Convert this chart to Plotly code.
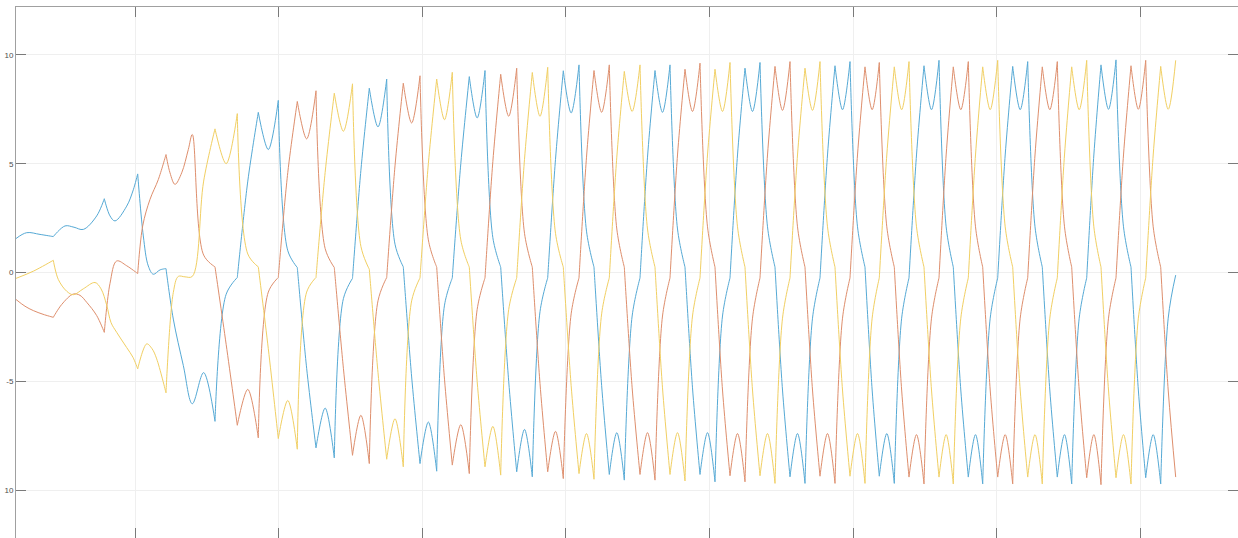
import plotly.graph_objects as go

# ---------------- data (time in ms) ----------------
# commutation instants during start-up
t_lead_step = [3.73, 8.83, 12.17, 15.00]
# commutation instants from the point where the regular six-step pattern begins
t_step = [17.63, 19.90, 22.13, 24.23, 26.23, 28.13, 30.00, 31.83, 33.65, 35.33,
          37.07, 38.73, 40.40, 42.07, 43.63, 45.33, 46.90, 48.47, 50.07, 51.63,
          53.17, 54.73, 56.30, 57.80, 59.33, 60.83, 62.40, 63.90, 65.40, 66.90,
          68.40, 69.90, 71.40, 72.90, 74.40, 75.90, 77.40, 78.90, 80.40, 81.90,
          83.40, 84.90, 86.33, 87.83, 89.30, 90.80, 92.30, 93.73, 95.23, 96.67,
          98.17, 99.67, 101.17, 102.63, 104.13, 105.57, 107.07, 108.50, 110.00, 111.50,
          112.97, 114.47, 115.97]

# start-up portion (before the regular pattern)
blue_lead_t = [0.0, 1.07, 2.4, 3.73, 4.9, 5.8, 6.73, 8.07, 8.83, 9.4, 9.9, 11.07, 11.73,
               12.17, 12.73, 13.23, 13.73, 14.4, 15.0, 15.73, 16.73]
blue_lead_v = [1.56, 1.83, 1.75, 1.65, 2.14, 2.08, 1.98, 2.6, 3.39, 2.6, 2.37, 3.05, 3.8,
               4.53, 1.68, 0.3, -0.08, 0.12, 0.18, -2.14, -4.27]

red_lead_t = [0.0, 0.9, 1.73, 2.7, 3.73, 4.57, 5.73, 6.4, 7.07, 8.07, 8.83, 9.4, 10.07,
              11.07, 12.17, 12.67, 13.4, 14.23, 15.0, 15.4, 15.9, 16.57, 17.23]
red_lead_v = [-1.24, -1.55, -1.75, -1.92, -2.06, -1.47, -0.99, -1.05, -1.37, -1.98, -2.75,
              -0.5, 0.53, 0.31, -0.05, 2.14, 3.36, 4.27, 5.42, 4.58, 4.05, 4.58, 5.65]

yellow_lead_t = [0.0, 1.73, 3.73, 4.23, 5.07, 5.73, 6.73, 7.9, 8.5, 9.07, 9.5, 10.07,
                 11.07, 11.7, 12.17, 13.07, 13.6, 14.07, 15.0, 15.73, 16.23, 16.9]
yellow_lead_v = [-0.27, 0.06, 0.56, -0.32, -0.86, -1.02, -0.75, -0.46, -0.75, -1.5, -2.3,
                 -2.75, -3.45, -3.9, -4.43, -3.28, -3.5, -3.97, -5.53, -0.92, -0.18, -0.2]

# values at each commutation instant
blue_step = [-6.03, -6.84, -0.23, 7.36, 7.91, 0.23,
             -8.06, -8.52, -0.27, 8.47, 8.89, 0.26,
             -8.78, -9.13, -0.25, 9.00, 9.28, 0.25,
             -9.16, -9.39, -0.25, 9.27, 9.54, 0.25,
             -9.28, -9.54, -0.25, 9.28, 9.54, 0.25,
             -9.28, -9.62, -0.25, 9.39, 9.65, 0.25,
             -9.39, -9.69, -0.25, 9.50, 9.69, 0.25,
             -9.36, -9.69, -0.25, 9.50, 9.75, 0.25,
             -9.40, -9.72, -0.25, 9.47, 9.69, 0.25,
             -9.40, -9.72, -0.25, 9.54, 9.77, 0.25,
             -9.43, -9.72, -0.12]
red_step = [6.34, 0.26, -7.02, -7.60, -0.23, 7.86,
            8.35, 0.23, -8.40, -8.78, -0.23, 8.70,
            9.04, 0.25, -8.85, -9.24, -0.25, 9.11,
            9.39, 0.25, -9.16, -9.47, -0.25, 9.28,
            9.54, 0.25, -9.28, -9.54, -0.25, 9.34,
            9.62, 0.25, -9.34, -9.62, -0.25, 9.47,
            9.69, 0.25, -9.36, -9.69, -0.25, 9.45,
            9.65, 0.25, -9.40, -9.72, -0.25, 9.45,
            9.69, 0.25, -9.40, -9.72, -0.25, 9.45,
            9.69, 0.25, -9.43, -9.75, -0.25, 9.50,
            9.75, 0.25, -9.40]
yellow_step = [-0.18, 6.60, 7.30, 0.26, -7.63, -8.12,
               -0.23, 8.24, 8.67, 0.15, -8.58, -8.93,
               -0.25, 8.89, 9.20, 0.25, -8.93, -9.31,
               -0.25, 9.19, 9.43, 0.25, -9.24, -9.50,
               -0.25, 9.24, 9.54, 0.25, -9.28, -9.58,
               -0.25, 9.34, 9.65, 0.25, -9.34, -9.69,
               -0.25, 9.39, 9.69, 0.25, -9.36, -9.69,
               -0.25, 9.45, 9.69, 0.25, -9.40, -9.72,
               -0.25, 9.45, 9.75, 0.25, -9.40, -9.72,
               -0.25, 9.45, 9.75, 0.25, -9.43, -9.72,
               -0.25, 9.47, 9.75]

# values half-way between consecutive commutation instants
blue_mid = [-4.6, -1.0, 4.2, 5.65, 1.0, -4.4,
            -6.23, -1.2, 4.7, 6.69, 1.3, -4.8,
            -6.87, -1.5, 5.0, 7.10, 1.6, -5.0,
            -7.21, -1.8, 5.2, 7.33, 1.9, -5.2,
            -7.36, -2.0, 5.3, 7.36, 2.0, -5.3,
            -7.36, -2.0, 5.4, 7.40, 2.1, -5.4,
            -7.40, -2.1, 5.4, 7.48, 2.1, -5.4,
            -7.40, -2.1, 5.4, 7.48, 2.1, -5.4,
            -7.45, -2.1, 5.4, 7.48, 2.1, -5.4,
            -7.45, -2.1, 5.4, 7.50, 2.1, -5.4,
            -7.45, -2.1]
red_mid = [0.8, -3.3, -5.37, -0.9, 4.6, 6.14,
           1.1, -4.4, -6.56, -1.3, 4.9, 6.87,
           1.5, -4.9, -6.99, -1.7, 5.1, 7.18,
           1.8, -5.1, -7.30, -1.9, 5.3, 7.36,
           2.0, -5.3, -7.36, -2.0, 5.4, 7.40,
           2.1, -5.4, -7.40, -2.1, 5.4, 7.45,
           2.1, -5.4, -7.40, -2.1, 5.4, 7.48,
           2.1, -5.4, -7.45, -2.1, 5.4, 7.48,
           2.1, -5.4, -7.45, -2.1, 5.4, 7.48,
           2.1, -5.4, -7.45, -2.1, 5.4, 7.50,
           2.1, -5.4]
yellow_mid = [4.2, 5.0, 0.85, -3.5, -5.88, -0.9,
              4.6, 6.49, 1.2, -4.6, -6.72, -1.3,
              5.0, 7.02, 1.5, -5.0, -7.07, -1.7,
              5.2, 7.18, 1.8, -5.2, -7.40, -1.9,
              5.3, 7.40, 2.0, -5.3, -7.36, -2.0,
              5.4, 7.40, 2.1, -5.4, -7.40, -2.1,
              5.4, 7.45, 2.1, -5.4, -7.40, -2.1,
              5.4, 7.48, 2.1, -5.4, -7.45, -2.1,
              5.4, 7.48, 2.1, -5.4, -7.45, -2.1,
              5.4, 7.48, 2.1, -5.4, -7.45, -2.1,
              5.4, 7.50]

y_tick_vals = [-10, -5, 0, 5, 10]
y_tick_text = ["10", "-5", "0", "5", "10"]

# ---------------- build traces ----------------
# Commutation instants are corners of the waveform: repeating such a vertex makes
# Plotly's spline break there (sharp cusp) while staying smooth in between.
def build(lead_t, lead_v, step_v, mid_v):
    xs, ys = [], []

    def add(t, v, corner):
        xs.append(t)
        ys.append(v)
        if corner:
            xs.append(t)
            ys.append(v)

    for t, v in zip(lead_t, lead_v):
        add(t, v, t in t_lead_step)
    n = len(step_v)
    for i in range(n):
        add(t_step[i], step_v[i], 0 < i < n - 1)
        if i < len(mid_v):
            add((t_step[i] + t_step[i + 1]) / 2.0, mid_v[i], False)
    return xs, ys


series = [
    ("Phase A", blue_lead_t, blue_lead_v, blue_step, blue_mid, "#55a9d5"),
    ("Phase B", red_lead_t, red_lead_v, red_step, red_mid, "#de8e6c"),
    ("Phase C", yellow_lead_t, yellow_lead_v, yellow_step, yellow_mid, "#f1cf62"),
]

fig = go.Figure()
for name, lt, lv, sv, mv, col in series:
    x, y = build(lt, lv, sv, mv)
    fig.add_trace(go.Scatter(x=x, y=y, mode="lines", name=name,
                             line=dict(color=col, width=1, shape="spline",
                                       smoothing=1.0, simplify=False)))

axis_gray = "#a0a0a0"
fig.update_layout(
    width=1238, height=538,
    margin=dict(l=16, r=0, t=7, b=0, pad=0),
    paper_bgcolor="white", plot_bgcolor="white",
    showlegend=False,
    xaxis=dict(range=[0, 122.2], tick0=11.93, dtick=14.355, tickmode="linear",
               showticklabels=False, ticks="inside", ticklen=10,
               tickcolor="#7a7a7a", tickwidth=1,
               showgrid=True, gridcolor="#efefef", gridwidth=1,
               showline=True, linecolor=axis_gray, linewidth=1,
               mirror="allticks", zeroline=False, automargin=False),
    yaxis=dict(range=[-12.2, 12.2], tickmode="array", tickvals=y_tick_vals,
               ticktext=y_tick_text, ticks="inside", ticklen=10,
               tickcolor="#7a7a7a", tickwidth=1,
               tickfont=dict(family="Liberation Sans, Arial", size=8, color="#4d4d4d"),
               showgrid=True, gridcolor="#efefef", gridwidth=1,
               showline=True, linecolor=axis_gray, linewidth=1,
               mirror="allticks", zeroline=False, automargin=False),
)

fig.write_html("out.html")
